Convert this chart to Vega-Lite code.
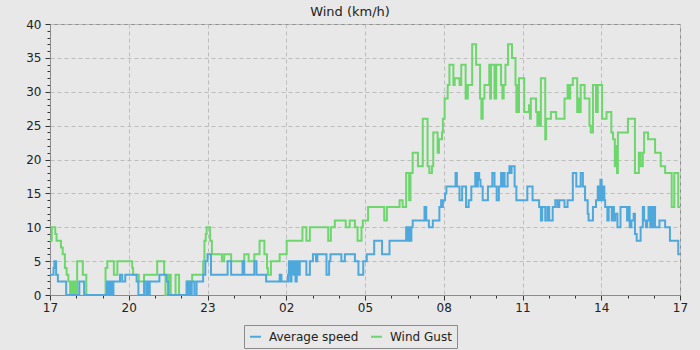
{
  "$schema": "https://vega.github.io/schema/vega-lite/v6.json",
  "width": 630,
  "height": 271,
  "autosize": "none",
  "padding": {"left": 50, "top": 24, "right": 20, "bottom": 55},
  "background": "#e8e8e8",
  "title": {"text": "Wind (km/h)", "fontSize": 13, "font": "DejaVu Sans", "fontWeight": "normal", "color": "#222222", "offset": -1, "dx": -15},
  "config": {
    "view": {"stroke": "#8c8c8c", "fill": "#e8e8e8"},
    "font": "DejaVu Sans"
  },
  "datasets": {
    "avg": [
      {"m":0,"v":3},{"m":8,"v":4},{"m":10,"v":5},{"m":14,"v":3},{"m":18,"v":2},{"m":37,"v":0},{"m":67,"v":2},{"m":78,"v":0},
      {"m":130,"v":2},{"m":133,"v":0},{"m":135,"v":2},{"m":138,"v":0},{"m":140,"v":2},{"m":143,"v":0},{"m":145,"v":2},
      {"m":160,"v":3},{"m":165,"v":2},{"m":172,"v":3},{"m":198,"v":2},{"m":202,"v":0},{"m":215,"v":2},{"m":220,"v":0},{"m":222,"v":2},{"m":225,"v":0},{"m":228,"v":2},
      {"m":250,"v":3},{"m":267,"v":2},{"m":270,"v":0},{"m":312,"v":2},{"m":315,"v":0},{"m":318,"v":2},{"m":321,"v":0},{"m":324,"v":2},{"m":330,"v":0},{"m":335,"v":2},
      {"m":350,"v":3},{"m":355,"v":5},{"m":360,"v":6},{"m":368,"v":3},{"m":406,"v":5},{"m":414,"v":3},{"m":440,"v":5},{"m":444,"v":3},{"m":467,"v":5},{"m":472,"v":3},
      {"m":494,"v":2},{"m":525,"v":3},{"m":529,"v":2},{"m":544,"v":3},{"m":546,"v":5},{"m":549,"v":2},{"m":552,"v":5},{"m":555,"v":3},{"m":558,"v":5},{"m":561,"v":2},{"m":564,"v":5},{"m":567,"v":3},{"m":571,"v":5},
      {"m":586,"v":3},{"m":594,"v":5},{"m":601,"v":6},{"m":608,"v":5},{"m":611,"v":6},{"m":632,"v":3},{"m":638,"v":5},{"m":641,"v":6},{"m":666,"v":5},{"m":674,"v":6},
      {"m":697,"v":5},{"m":705,"v":3},{"m":716,"v":5},{"m":724,"v":6},{"m":741,"v":8},{"m":759,"v":6},{"m":776,"v":8},
      {"m":814,"v":10},{"m":817,"v":8},{"m":820,"v":10},{"m":823,"v":8},{"m":826,"v":10},{"m":829,"v":11},{"m":856,"v":13},{"m":860,"v":11},{"m":866,"v":10},{"m":875,"v":11},
      {"m":890,"v":13},{"m":894,"v":14},{"m":896,"v":13},{"m":898,"v":14},{"m":903,"v":15},{"m":906,"v":16},{"m":927,"v":18},{"m":930,"v":16},{"m":936,"v":14},{"m":942,"v":16},
      {"m":951,"v":13},{"m":957,"v":14},{"m":963,"v":16},{"m":972,"v":18},{"m":975,"v":16},{"m":978,"v":18},{"m":981,"v":17},{"m":984,"v":16},{"m":989,"v":14},
      {"m":1001,"v":16},{"m":1011,"v":18},{"m":1016,"v":16},{"m":1021,"v":14},{"m":1026,"v":16},{"m":1031,"v":18},{"m":1034,"v":16},{"m":1037,"v":18},{"m":1039,"v":16},
      {"m":1046,"v":18},{"m":1050,"v":19},{"m":1053,"v":18},{"m":1055,"v":19},{"m":1062,"v":16},{"m":1066,"v":14},{"m":1091,"v":16},{"m":1103,"v":14},
      {"m":1118,"v":13},{"m":1122,"v":11},{"m":1125,"v":13},{"m":1132,"v":11},{"m":1137,"v":13},{"m":1141,"v":11},{"m":1149,"v":13},{"m":1155,"v":14},{"m":1160,"v":13},{"m":1164,"v":14},
      {"m":1176,"v":13},{"m":1183,"v":14},{"m":1195,"v":18},{"m":1203,"v":16},{"m":1213,"v":18},{"m":1218,"v":16},{"m":1223,"v":14},{"m":1229,"v":12},{"m":1231,"v":11},
      {"m":1241,"v":13},{"m":1248,"v":14},{"m":1252,"v":16},{"m":1255,"v":14},{"m":1258,"v":17},{"m":1261,"v":14},{"m":1264,"v":16},{"m":1267,"v":14},{"m":1269,"v":13},
      {"m":1274,"v":11},{"m":1277,"v":13},{"m":1284,"v":11},{"m":1287,"v":13},{"m":1289,"v":11},{"m":1292,"v":12},{"m":1297,"v":10},{"m":1304,"v":13},{"m":1319,"v":11},
      {"m":1322,"v":13},{"m":1325,"v":10},{"m":1329,"v":11},{"m":1334,"v":12},{"m":1337,"v":9},{"m":1341,"v":8},{"m":1350,"v":10},{"m":1355,"v":13},{"m":1358,"v":11},
      {"m":1362,"v":10},{"m":1365,"v":11},{"m":1368,"v":13},{"m":1372,"v":10},{"m":1375,"v":13},{"m":1378,"v":10},{"m":1381,"v":13},{"m":1383,"v":10},{"m":1393,"v":11},
      {"m":1406,"v":10},{"m":1417,"v":8},{"m":1436,"v":6},{"m":1440,"v":6}
    ],
    "gust": [
      {"m":0,"v":8},{"m":4,"v":10},{"m":12,"v":9},{"m":15,"v":8},{"m":25,"v":7},{"m":29,"v":6},{"m":34,"v":4},{"m":38,"v":3},{"m":42,"v":2},{"m":46,"v":0},{"m":50,"v":2},
      {"m":53,"v":0},{"m":56,"v":2},{"m":59,"v":0},{"m":62,"v":5},{"m":75,"v":3},{"m":83,"v":0},{"m":127,"v":4},{"m":131,"v":5},{"m":146,"v":3},{"m":154,"v":5},
      {"m":188,"v":4},{"m":190,"v":3},{"m":203,"v":2},{"m":215,"v":3},{"m":245,"v":5},{"m":261,"v":3},{"m":264,"v":0},{"m":272,"v":3},{"m":276,"v":0},{"m":287,"v":3},
      {"m":295,"v":0},{"m":314,"v":2},{"m":325,"v":3},{"m":350,"v":5},{"m":353,"v":8},{"m":356,"v":9},{"m":358,"v":10},{"m":366,"v":8},{"m":370,"v":6},{"m":393,"v":5},
      {"m":398,"v":6},{"m":414,"v":5},{"m":444,"v":6},{"m":454,"v":5},{"m":467,"v":6},{"m":479,"v":8},{"m":490,"v":6},{"m":496,"v":4},{"m":498,"v":3},{"m":505,"v":5},
      {"m":525,"v":6},{"m":541,"v":8},{"m":577,"v":10},{"m":586,"v":8},{"m":594,"v":10},{"m":636,"v":8},{"m":642,"v":10},{"m":651,"v":11},{"m":676,"v":10},{"m":685,"v":11},
      {"m":697,"v":10},{"m":703,"v":8},{"m":712,"v":10},{"m":715,"v":11},{"m":727,"v":13},{"m":764,"v":11},{"m":770,"v":13},{"m":799,"v":14},{"m":806,"v":13},{"m":814,"v":18},
      {"m":821,"v":14},{"m":824,"v":18},{"m":829,"v":21},{"m":841,"v":19},{"m":852,"v":26},{"m":863,"v":19},{"m":867,"v":18},{"m":873,"v":19},{"m":876,"v":24},{"m":886,"v":21},
      {"m":889,"v":23},{"m":896,"v":24},{"m":898,"v":26},{"m":902,"v":29},{"m":909,"v":31},{"m":913,"v":34},{"m":922,"v":31},{"m":925,"v":32},{"m":936,"v":31},{"m":940,"v":34},
      {"m":950,"v":29},{"m":952,"v":31},{"m":954,"v":29},{"m":955,"v":31},{"m":965,"v":37},{"m":974,"v":34},{"m":983,"v":29},{"m":986,"v":26},{"m":989,"v":29},{"m":993,"v":31},
      {"m":1004,"v":34},{"m":1006,"v":29},{"m":1008,"v":34},{"m":1016,"v":29},{"m":1020,"v":34},{"m":1031,"v":31},{"m":1034,"v":29},{"m":1037,"v":31},{"m":1041,"v":34},
      {"m":1047,"v":37},{"m":1056,"v":35},{"m":1064,"v":31},{"m":1066,"v":27},{"m":1068,"v":31},{"m":1070,"v":27},{"m":1072,"v":32},{"m":1084,"v":27},{"m":1095,"v":28},
      {"m":1097,"v":26},{"m":1099,"v":29},{"m":1111,"v":27},{"m":1114,"v":25},{"m":1116,"v":27},{"m":1119,"v":25},{"m":1122,"v":32},{"m":1132,"v":23},{"m":1134,"v":26},
      {"m":1145,"v":27},{"m":1157,"v":26},{"m":1176,"v":29},{"m":1183,"v":31},{"m":1187,"v":29},{"m":1189,"v":31},{"m":1195,"v":32},{"m":1205,"v":27},{"m":1208,"v":29},
      {"m":1211,"v":27},{"m":1213,"v":31},{"m":1222,"v":29},{"m":1233,"v":25},{"m":1236,"v":24},{"m":1241,"v":31},{"m":1248,"v":27},{"m":1252,"v":31},{"m":1262,"v":26},
      {"m":1272,"v":27},{"m":1283,"v":24},{"m":1287,"v":23},{"m":1291,"v":19},{"m":1293,"v":22},{"m":1296,"v":18},{"m":1298,"v":24},{"m":1321,"v":26},{"m":1337,"v":18},
      {"m":1346,"v":21},{"m":1350,"v":19},{"m":1355,"v":21},{"m":1358,"v":24},{"m":1367,"v":23},{"m":1383,"v":21},{"m":1396,"v":19},{"m":1406,"v":18},{"m":1421,"v":13},
      {"m":1427,"v":18},{"m":1436,"v":13},{"m":1440,"v":13}
    ]
  },
  "encoding": {
    "x": {
      "field": "m", "type": "quantitative",
      "scale": {"domain": [0, 1440], "nice": false, "zero": false},
      "axis": {
        "title": null,
        "values": [0,60,120,180,240,300,360,420,480,540,600,660,720,780,840,900,960,1020,1080,1140,1200,1260,1320,1380,1440],
        "labelExpr": "datum.value % 180 == 0 ? ((((17 + datum.value / 60) % 24) < 10 ? '0' : '') + ((17 + datum.value / 60) % 24)) : ''",
        "tickSize": {"condition": {"test": "datum.value % 180 == 0", "value": 5}, "value": 3},
        "grid": true,
        "gridOpacity": {"condition": {"test": "datum.value % 180 == 0", "value": 1}, "value": 0},
        "gridDash": [4, 3],
        "gridColor": "#bdbdbd",
        "domainColor": "#8c8c8c",
        "tickColor": "#333333",
        "labelFontSize": 12,
        "labelColor": "#222222",
        "labelPadding": 2,
        "labelFlush": false,
        "labelOverlap": false
      }
    },
    "y": {
      "field": "v", "type": "quantitative",
      "scale": {"domain": [0, 40], "nice": false},
      "axis": {
        "title": null,
        "values": [0,1,2,3,4,5,6,7,8,9,10,11,12,13,14,15,16,17,18,19,20,21,22,23,24,25,26,27,28,29,30,31,32,33,34,35,36,37,38,39,40],
        "labelExpr": "datum.value % 5 == 0 ? datum.label : ''",
        "tickSize": {"condition": {"test": "datum.value % 5 == 0", "value": 5}, "value": 3},
        "grid": true,
        "gridOpacity": {"condition": {"test": "datum.value % 5 == 0", "value": 1}, "value": 0},
        "gridDash": [4, 3],
        "gridColor": "#bdbdbd",
        "domainColor": "#8c8c8c",
        "tickColor": "#333333",
        "labelFontSize": 12,
        "labelColor": "#222222",
        "labelPadding": 4,
        "labelOverlap": false
      }
    }
  },
  "layer": [
    {
      "data": {"name": "gust"},
      "mark": {"type": "line", "interpolate": "step-after", "strokeWidth": 2},
      "encoding": {
        "color": {
          "datum": "Wind Gust",
          "scale": {"domain": ["Average speed", "Wind Gust"], "range": ["#4fa8dc", "#6dd66d"]},
          "legend": {
            "title": null, "orient": "none", "legendX": 194, "legendY": 301, "direction": "horizontal",
            "strokeColor": "#8c8c8c", "fillColor": "#e8e8e8", "padding": 5,
            "symbolType": "stroke", "symbolStrokeWidth": 2, "symbolSize": 120,
            "labelFontSize": 12, "labelColor": "#222222", "labelOffset": 7, "columnPadding": 8
          }
        }
      }
    },
    {
      "data": {"name": "avg"},
      "mark": {"type": "line", "interpolate": "step-after", "strokeWidth": 2},
      "encoding": {"color": {"datum": "Average speed"}}
    }
  ]
}
